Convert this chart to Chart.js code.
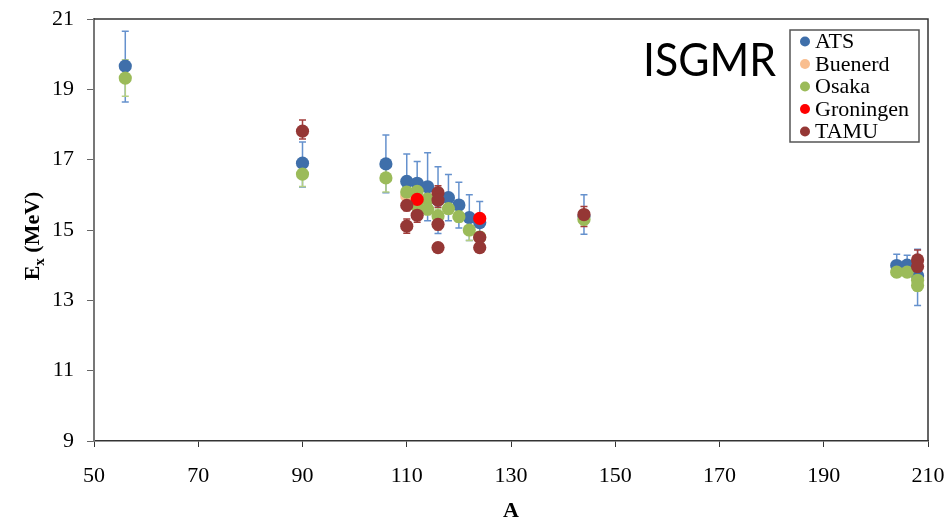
<!DOCTYPE html>
<html>
<head>
<meta charset="utf-8">
<script src="https://cdn.jsdelivr.net/npm/chart.js@4.4.1/dist/chart.umd.min.js"></script>
<style>
    html, body { margin: 0; padding: 0; background: #fff; }
    #wrap { width: 949px; height: 519px; }
</style>
</head>
<body>
<div id="wrap"><canvas id="chart" width="949" height="519"></canvas></div>
<script>
// data
var atsA = [56, 90, 106, 110, 112, 114, 116, 118, 120, 122, 124, 144, 204, 206, 208];
var atsE = [19.66, 16.90, 16.88, 16.38, 16.33, 16.23, 15.85, 15.92, 15.71, 15.35, 15.21, 15.40, 13.99, 14.00, 13.70];
var atsUp = [0.99, 0.60, 0.82, 0.78, 0.62, 0.97, 0.95, 0.66, 0.65, 0.65, 0.60, 0.60, 0.32, 0.28, 0.75];
var atsDown = [1.02, 0.68, 0.82, 0.78, 0.62, 0.97, 0.95, 0.66, 0.65, 0.65, 0.60, 0.52, 0.32, 0.28, 0.85];

var buenerdA = [110];
var buenerdE = [15.97];
var buenerdErr = [0];

var osakaA = [56, 90, 106, 110, 112, 112, 114, 114, 116, 118, 120, 122, 124, 144, 204, 206, 208, 208];
var osakaE = [19.32, 16.59, 16.48, 16.08, 16.10, 15.68, 15.88, 15.59, 15.40, 15.61, 15.38, 15.00, 14.80, 15.30, 13.80, 13.80, 13.57, 13.42];
var osakaErr = [0.52, 0.35, 0.4, 0.15, 0.15, 0.15, 0.15, 0.15, 0.2, 0.15, 0.15, 0.3, 0.15, 0.15, 0.12, 0.12, 0.15, 0.15];

var groningenA = [112, 124];
var groningenE = [15.87, 15.33];
var groningenErr = [0.1, 0.1];

var tamuA = [90, 110, 110, 112, 116, 116, 116, 116, 124, 124, 144, 208, 208];
var tamuE = [17.81, 15.70, 15.11, 15.42, 16.06, 15.85, 15.16, 14.50, 14.79, 14.50, 15.44, 14.15, 13.96];
var tamuUp = [0.32, 0.15, 0.2, 0.2, 0.2, 0.2, 0.15, 0.1, 0.1, 0.1, 0.23, 0.28, 0.1];
var tamuDown = [0.22, 0.15, 0.2, 0.2, 0.2, 0.2, 0.15, 0.1, 0.1, 0.1, 0.34, 0.1, 0.1];

var xTicks = [50, 70, 90, 110, 130, 150, 170, 190, 210];
var yTicks = [9, 11, 13, 15, 17, 19, 21];

var serif = "'Liberation Serif', 'Times New Roman', serif";

function points(xs, ys) {
    return xs.map(function (x, i) {
        return { x: x, y: ys[i] };
    });
}

function series(label, xs, ys, up, down, color, barColor, order) {
    return {
        label: label,
        data: points(xs, ys),
        errUp: up,
        errDown: down,
        barColor: barColor,
        backgroundColor: color,
        borderColor: color,
        borderWidth: 0,
        pointRadius: 6.6,
        pointHoverRadius: 6.6,
        order: order
    };
}

// error bars, drawn under the markers
var errorBars = {
    id: 'errorBars',
    beforeDatasetsDraw: function (chart) {
        var ctx = chart.ctx;
        var y = chart.scales.y;
        ctx.save();
        // same back-to-front order as the markers
        var list = chart.data.datasets.map(function (d, i) { return i; });
        list.sort(function (a, b) { return chart.data.datasets[b].order - chart.data.datasets[a].order; });
        list.forEach(function (di) {
            var ds = chart.data.datasets[di];
            var meta = chart.getDatasetMeta(di);
            ctx.strokeStyle = ds.barColor;
            ctx.lineWidth = 1.5;
            meta.data.forEach(function (pt, i) {
                var up = ds.errUp[i], down = ds.errDown[i];
                if (!up && !down) return;
                var v = ds.data[i].y;
                var top = y.getPixelForValue(v + up);
                var bot = y.getPixelForValue(v - down);
                ctx.beginPath();
                ctx.moveTo(pt.x, top);
                ctx.lineTo(pt.x, bot);
                ctx.moveTo(pt.x - 3.5, top);
                ctx.lineTo(pt.x + 3.5, top);
                ctx.moveTo(pt.x - 3.5, bot);
                ctx.lineTo(pt.x + 3.5, bot);
                ctx.stroke();
            });
        });
        ctx.restore();
    }
};

// frame, titles, legend box and the ISGMR label
var decorations = {
    id: 'decorations',
    afterDraw: function (chart) {
        var ctx = chart.ctx;
        var area = chart.chartArea;
        ctx.save();

        ctx.strokeStyle = '#333';
        ctx.lineWidth = 1.5;
        ctx.beginPath();
        ctx.moveTo(area.left, area.top);
        ctx.lineTo(area.right, area.top);
        ctx.lineTo(area.right, area.bottom);
        ctx.stroke();

        ctx.fillStyle = '#000';
        ctx.font = 'bold 22px ' + serif;
        ctx.textAlign = 'center';
        ctx.textBaseline = 'alphabetic';
        ctx.fillText('A', (area.left + area.right) / 2, 517);

        // y title with subscript x
        ctx.translate(39, 236);
        ctx.rotate(-Math.PI / 2);
        ctx.textAlign = 'left';
        var w1 = ctx.measureText('E').width;
        ctx.font = 'bold 15px ' + serif;
        var w2 = ctx.measureText('x').width;
        ctx.font = 'bold 22px ' + serif;
        var w3 = ctx.measureText(' (MeV)').width;
        var sx = -(w1 + w2 + w3) / 2;
        ctx.fillText('E', sx, 0);
        ctx.font = 'bold 15px ' + serif;
        ctx.fillText('x', sx + w1, 5);
        ctx.font = 'bold 22px ' + serif;
        ctx.fillText(' (MeV)', sx + w1 + w2, 0);
        ctx.setTransform(1, 0, 0, 1, 0, 0);

        // narrow the sans label a little, the original face is condensed
        ctx.font = "47px 'Lato', 'Open Sans', sans-serif";
        ctx.fillStyle = '#000';
        var iw = ctx.measureText('ISGMR').width;
        ctx.translate(643, 76);
        ctx.scale(133 / iw, 1);
        ctx.fillText('ISGMR', 0, 0);
        ctx.setTransform(1, 0, 0, 1, 0, 0);

        // legend
        ctx.fillStyle = '#fff';
        ctx.fillRect(790, 30, 129, 112);
        ctx.strokeStyle = '#555';
        ctx.lineWidth = 1.5;
        ctx.strokeRect(790, 30, 129, 112);
        ctx.font = '22px ' + serif;
        ctx.textBaseline = 'middle';
        chart.data.datasets.forEach(function (ds, i) {
            var cy = 41.5 + i * 22.5;
            ctx.fillStyle = ds.backgroundColor;
            ctx.beginPath();
            ctx.arc(805, cy, 5, 0, Math.PI * 2);
            ctx.fill();
            ctx.fillStyle = '#000';
            ctx.fillText(ds.label, 815, cy + 1);
        });
        ctx.restore();
    }
};

var chart = new Chart(document.getElementById('chart'), {
    type: 'scatter',
    data: {
        datasets: [
            series('ATS', atsA, atsE, atsUp, atsDown, '#3f6faa', 'rgba(74,126,196,0.85)', 4),
            series('Buenerd', buenerdA, buenerdE, buenerdErr, buenerdErr, '#f9be8f', '#f9be8f', 3),
            series('Osaka', osakaA, osakaE, osakaErr, osakaErr, '#9bbb59', '#b5cf83', 2),
            series('Groningen', groningenA, groningenE, groningenErr, groningenErr, '#ff0000', '#ff0000', 1),
            series('TAMU', tamuA, tamuE, tamuUp, tamuDown, '#953735', '#a23e3c', 0)
        ]
    },
    options: {
        responsive: false,
        animation: false,
        devicePixelRatio: 1,
        layout: { padding: { top: 19, right: 21, left: 0, bottom: 0 } },
        plugins: {
            legend: { display: false },
            tooltip: { enabled: false }
        },
        scales: {
            x: {
                type: 'linear',
                min: 50,
                max: 210,
                afterBuildTicks: function (scale) {
                    scale.ticks = xTicks.map(function (v) { return { value: v }; });
                },
                afterFit: function (scale) {
                    scale.height = 78;
                    scale.paddingLeft = 0;
                    scale.paddingRight = 0;
                },
                ticks: { color: '#000', padding: 16, font: { family: serif, size: 22 } },
                grid: { drawOnChartArea: false, tickLength: 6, color: '#333' },
                border: { color: '#333', width: 1.5 }
            },
            y: {
                min: 9,
                max: 21,
                afterBuildTicks: function (scale) {
                    scale.ticks = yTicks.map(function (v) { return { value: v }; });
                },
                afterFit: function (scale) {
                    scale.width = 94;
                    scale.paddingTop = 0;
                    scale.paddingBottom = 0;
                },
                ticks: { color: '#000', padding: 13, font: { family: serif, size: 22 } },
                grid: { drawOnChartArea: false, tickLength: 7, color: '#666' },
                border: { color: '#777', width: 2 }
            }
        }
    },
    plugins: [errorBars, decorations]
});
</script>
</body>
</html>
